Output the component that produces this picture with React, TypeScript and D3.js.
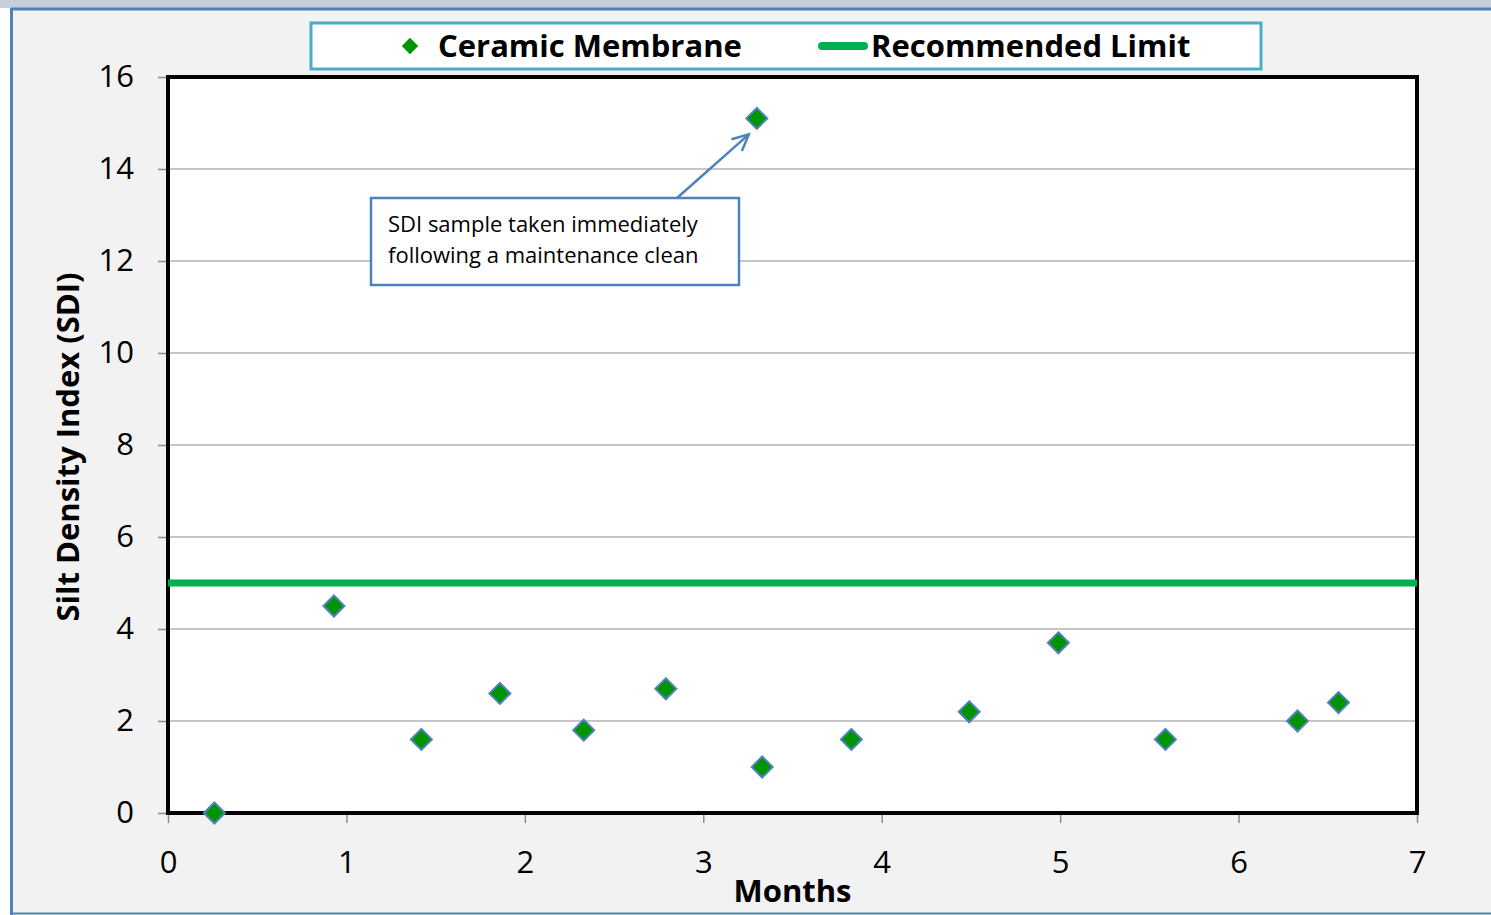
import React, { useRef, useEffect } from 'react';
import * as d3 from 'd3';

// Months since start vs measured SDI
const months = [0.26, 0.93, 1.42, 1.86, 2.33, 2.79, 3.3, 3.33, 3.83, 4.49, 4.99, 5.59, 6.33, 6.56];
const sdiValues = [0, 4.5, 1.6, 2.6, 1.8, 2.7, 15.1, 1.0, 1.6, 2.2, 3.7, 1.6, 2.0, 2.4];
const recommendedLimit = 5;
const xTicks = [0, 1, 2, 3, 4, 5, 6, 7];
const yTicks = [0, 2, 4, 6, 8, 10, 12, 14, 16];
const seriesNames = ['Ceramic Membrane', 'Recommended Limit'];
const annotationLines = ['SDI sample taken immediately', 'following a maintenance clean'];

const WIDTH = 1491;
const HEIGHT = 915;
const FONT = 'Open Sans, Noto Sans, sans-serif';

const App: React.FC = () => {
    const svgRef = useRef<SVGSVGElement | null>(null);

    useEffect(() => {
        if (!svgRef.current) return;
        const svg = d3.select(svgRef.current);
        svg.selectAll('*').remove();

        const margin = { top: 77, right: 74, bottom: 102, left: 168 };
        const innerWidth = WIDTH - margin.left - margin.right;
        const innerHeight = HEIGHT - margin.top - margin.bottom;

        // page background + frame
        svg.append('rect').attr('width', WIDTH).attr('height', HEIGHT).attr('fill', '#f2f2f2');
        svg.append('rect').attr('x', 0).attr('y', 0).attr('width', WIDTH).attr('height', 8).attr('fill', '#c3cfdb');
        svg.append('rect').attr('x', 0).attr('y', 8).attr('width', 11).attr('height', HEIGHT - 8).attr('fill', '#ffffff');
        svg.append('line').attr('x1', 11).attr('x2', WIDTH).attr('y1', 9).attr('y2', 9)
            .attr('stroke', '#4f81bd').attr('stroke-width', 3);
        svg.append('line').attr('x1', 11.5).attr('x2', 11.5).attr('y1', 8).attr('y2', HEIGHT)
            .attr('stroke', '#4f81bd').attr('stroke-width', 3);
        svg.append('line').attr('x1', 11).attr('x2', WIDTH).attr('y1', 913.5).attr('y2', 913.5)
            .attr('stroke', '#4f81bd').attr('stroke-width', 2);

        const g = svg.append('g').attr('transform', `translate(${margin.left},${margin.top})`);

        const x = d3.scaleLinear().domain([0, 7]).range([0, innerWidth]);
        const y = d3.scaleLinear().domain([0, 16]).range([innerHeight, 0]);

        // plot area
        g.append('rect').attr('width', innerWidth).attr('height', innerHeight).attr('fill', 'white');

        // gridlines
        g.selectAll('.grid')
            .data(yTicks.slice(1, -1))
            .enter().append('line')
            .attr('x1', 0).attr('x2', innerWidth)
            .attr('y1', d => y(d)).attr('y2', d => y(d))
            .attr('stroke', '#b3b3b3').attr('stroke-width', 1.5);

        // y axis
        const yAxis = g.append('g')
            .call(d3.axisLeft(y).tickValues(yTicks).tickSize(10).tickPadding(24).tickFormat(d => String(d)));
        yAxis.select('.domain').remove();
        yAxis.selectAll('line').attr('stroke', '#8c8c8c').attr('stroke-width', 1.5);
        yAxis.selectAll('text')
            .attr('fill', '#000')
            .style('font-family', FONT)
            .style('font-size', '31px');

        // x axis
        const xAxis = g.append('g')
            .attr('transform', `translate(0,${innerHeight})`)
            .call(d3.axisBottom(x).tickValues(xTicks).tickSize(10).tickPadding(28).tickFormat(d => String(d)));
        xAxis.select('.domain').remove();
        xAxis.selectAll('line').attr('stroke', '#8c8c8c').attr('stroke-width', 1.5);
        xAxis.selectAll('text')
            .attr('fill', '#000')
            .style('font-family', FONT)
            .style('font-size', '31px');

        // frame
        g.append('rect').attr('width', innerWidth).attr('height', innerHeight)
            .attr('fill', 'none').attr('stroke', '#000').attr('stroke-width', 4);

        // recommended limit
        g.append('line')
            .attr('x1', x(0)).attr('x2', x(7))
            .attr('y1', y(recommendedLimit)).attr('y2', y(recommendedLimit))
            .attr('stroke', '#00b050').attr('stroke-width', 7);

        const diamond = d3.symbol().type(d3.symbolDiamond2).size(280);

        // points
        g.selectAll('.pt')
            .data(months.map((m, i) => ({ m, v: sdiValues[i] })))
            .enter().append('path')
            .attr('d', diamond)
            .attr('transform', d => `translate(${x(d.m)},${y(d.v)})`)
            .attr('fill', '#009400')
            .attr('stroke', '#4f81bd')
            .attr('stroke-width', 2);

        // annotation
        const peakIdx = sdiValues.indexOf(d3.max(sdiValues) as number);
        const ax = x(months[peakIdx]);
        const ay = y(sdiValues[peakIdx]);
        const box = { x: 371 - margin.left, y: 198 - margin.top, w: 368, h: 87 };
        g.append('rect')
            .attr('x', box.x).attr('y', box.y).attr('width', box.w).attr('height', box.h)
            .attr('fill', 'white').attr('stroke', '#4f81bd').attr('stroke-width', 2.5);
        g.selectAll('.ann')
            .data(annotationLines)
            .enter().append('text')
            .attr('x', box.x + 17)
            .attr('y', (_, i) => box.y + 34 + i * 31)
            .style('font-family', FONT)
            .style('font-size', '22px')
            .attr('fill', '#000')
            .text(d => d);
        const sx = 677 - margin.left, sy = box.y;
        const ex = ax - 8, ey = ay + 16;
        g.append('line').attr('x1', sx).attr('y1', sy).attr('x2', ex).attr('y2', ey)
            .attr('stroke', '#4f81bd').attr('stroke-width', 2.5);
        const ang = Math.atan2(sy - ey, sx - ex);
        const hl = 18;
        g.append('path')
            .attr('d', `M${ex + hl * Math.cos(ang - 0.45)},${ey + hl * Math.sin(ang - 0.45)}L${ex},${ey}L${ex + hl * Math.cos(ang + 0.45)},${ey + hl * Math.sin(ang + 0.45)}`)
            .attr('fill', 'none').attr('stroke', '#4f81bd').attr('stroke-width', 2.5);

        // axis titles
        svg.append('text')
            .attr('x', margin.left + innerWidth / 2).attr('y', 902)
            .attr('text-anchor', 'middle')
            .style('font-family', FONT).style('font-size', '31px').style('font-weight', 'bold')
            .text('Months');
        svg.append('text')
            .attr('transform', `translate(79,${margin.top + innerHeight / 2 + 2}) rotate(-90)`)
            .attr('text-anchor', 'middle')
            .style('font-family', FONT).style('font-size', '31px').style('font-weight', 'bold')
            .text('Silt Density Index (SDI)');

        // legend
        const legend = svg.append('g');
        legend.append('rect')
            .attr('x', 311).attr('y', 23).attr('width', 950).attr('height', 46)
            .attr('fill', 'white').attr('stroke', '#4bacc6').attr('stroke-width', 3);
        legend.append('path')
            .attr('d', d3.symbol().type(d3.symbolDiamond2).size(170))
            .attr('transform', 'translate(410,46)')
            .attr('fill', '#009400');
        legend.append('line')
            .attr('x1', 822).attr('x2', 864).attr('y1', 46).attr('y2', 46)
            .attr('stroke', '#00b050').attr('stroke-width', 8).attr('stroke-linecap', 'round');
        legend.selectAll('.lt')
            .data(seriesNames)
            .enter().append('text')
            .attr('x', (_, i) => (i === 0 ? 438 : 871))
            .attr('y', 57)
            .style('font-family', FONT).style('font-size', '31px').style('font-weight', 'bold')
            .text(d => d);
    }, []);

    return (
        <svg ref={svgRef} width={WIDTH} height={HEIGHT}
            style={{ position: 'absolute', left: 0, top: 0, display: 'block' }} />
    );
};

export default App;
